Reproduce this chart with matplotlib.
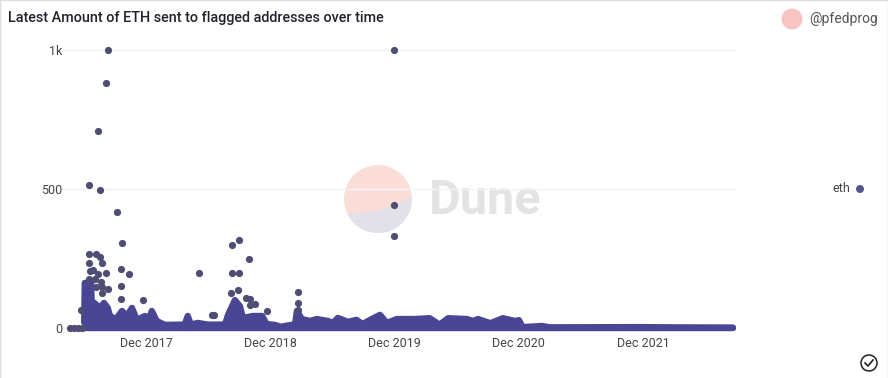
import matplotlib.pyplot as plt
from matplotlib.patches import Circle, Polygon, Rectangle

plt.rcParams['font.family'] = ['Roboto', 'DejaVu Sans']

# top of the dense band at the bottom of the chart (decimal year, eth)
band_x = [2017.415, 2017.42, 2017.47, 2017.475, 2017.51, 2017.54, 2017.575, 2017.605, 2017.62, 2017.66,
          2017.685, 2017.72, 2017.76, 2017.80, 2017.84, 2017.905, 2017.93, 2017.96, 2018.0, 2018.065,
          2018.225, 2018.25, 2018.275, 2018.33, 2018.41, 2018.55, 2018.575, 2018.63, 2018.67, 2018.695,
          2018.775, 2018.85, 2018.885, 2018.95, 2019.01, 2019.03, 2019.09, 2019.115, 2019.13, 2019.17,
          2019.235, 2019.29, 2019.38, 2019.42, 2019.46, 2019.54, 2019.61, 2019.66, 2019.72, 2019.80,
          2019.855, 2019.935, 2020.08, 2020.20, 2020.28, 2020.35, 2020.50, 2020.55, 2020.59, 2020.69,
          2020.79, 2020.89, 2020.92, 2020.95, 2021.105, 2021.17, 2021.895, 2022.16, 2022.645]
band_y = [20, 162, 162, 97, 85, 72, 90, 72, 47, 29,
          40, 61, 43, 72, 29, 43, 25, 61, 25, 11,
          12, 43, 12, 18, 12, 12, 47, 100, 79, 36,
          43, 43, 14, 11, 3, 7, 11, 11, 61, 32,
          25, 32, 25, 18, 36, 22, 29, 14, 29, 47,
          18, 32, 32, 35, 12, 35, 32, 25, 32, 17,
          35, 25, 28, 3, 7, 2, 3, 2, 1]

# single points above the band
dots_x = [2017.605, 2017.59, 2017.525, 2017.45, 2017.54, 2017.68, 2017.72, 2019.91, 2019.91, 2019.91,
          2018.34, 2018.61, 2018.66, 2018.745, 2018.61, 2018.66, 2019.14, 2019.14, 2019.14, 2017.39,
          2017.45, 2017.51, 2017.54, 2017.45, 2017.555, 2017.46, 2017.49, 2017.59, 2017.53, 2017.715,
          2017.78, 2017.45, 2017.505, 2017.55, 2017.51, 2017.555, 2017.61, 2017.555, 2017.715, 2017.89,
          2017.715, 2018.46, 2018.445, 2018.60, 2018.655, 2018.72, 2018.75, 2018.79, 2018.755, 2018.885,
          2017.30, 2017.33, 2017.365, 2017.395]
dots_y = [1000, 881, 709, 514, 496, 417, 306, 1000, 442, 331,
          199, 299, 317, 247, 198, 198, 128, 91, 65, 66,
          265, 265, 256, 235, 233, 205, 209, 199, 193, 213,
          193, 175, 176, 167, 146, 149, 139, 125, 152, 101,
          104, 48, 48, 125, 137, 109, 104, 86, 83, 61,
          0, 0, 0, 0]

tick_pos = [2017.92, 2018.92, 2019.92, 2020.92, 2021.92]
tick_labels = ["Dec 2017", "Dec 2018", "Dec 2019", "Dec 2020", "Dec 2021"]
y_ticks = [0, 500, 1000]
y_labels = ["0", "500", "1k"]

fig = plt.figure(figsize=(8.88, 3.78), dpi=100)

# page furniture, in pixels
bg = fig.add_axes([0, 0, 1, 1], zorder=0)
bg.set_xlim(0, 888)
bg.set_ylim(378, 0)
bg.axis("off")
disc = Circle((378, 199), 34, color="#fbded8", lw=0)
bg.add_patch(disc)
low = Polygon([(340, 214), (373, 212), (395, 205), (415, 195), (415, 240), (340, 240)], color="#e2e1ea", lw=0)
bg.add_patch(low)
low.set_clip_path(disc)
bg.text(429, 201, "Dune", fontsize=35, fontweight="bold", color="#e3e3e3", va="center", ha="left")
bg.text(8, 18, "Latest Amount of ETH sent to flagged addresses over time", fontsize=10.4,
        fontweight="medium", color="#20232b", va="center", ha="left")
bg.add_patch(Circle((792, 19), 10.5, color="#f8c4c4", lw=0))
bg.text(809, 19, "@pfedprog", fontsize=10, color="#555555", va="center", ha="left")
bg.text(832, 189, "eth", fontsize=9, color="#444444", va="center", ha="left")
bg.add_patch(Circle((860, 189), 4, color="#55558c", lw=0))
bg.add_patch(Circle((869, 363), 8, fc="white", ec="#222222", lw=1.1))
bg.plot([865, 868, 873], [363, 366, 360], color="#222222", lw=1.2)
bg.add_patch(Rectangle((0, 0), 887.5, 400, fc="none", ec="#dddddd", lw=1))

ax = fig.add_axes([60 / 888, 42 / 378, 676 / 888, 294 / 378], zorder=1)
ax.patch.set_alpha(0)
ax.set_xlim(2017.22, 2022.67)
ax.set_ylim(-29, 1029)
ax.fill_between(band_x, 0, band_y, color="#4a4694", lw=0, zorder=3)
ax.plot(band_x, band_y, color="#4a4694", lw=4.6, solid_joinstyle="round", solid_capstyle="round",
        clip_on=False, zorder=3)
ax.plot([band_x[0], band_x[-1]], [0, 0], color="#4a4694", lw=4.6, solid_capstyle="round",
        clip_on=False, zorder=3)
ax.scatter(dots_x, dots_y, s=27, color="#504d75", lw=0, clip_on=False, zorder=4)

ax.set_xticks(tick_pos)
ax.set_xticklabels(tick_labels)
ax.set_yticks(y_ticks)
ax.set_yticklabels(y_labels)
ax.tick_params(length=0, labelsize=9, labelcolor="#444444")
ax.tick_params(axis="x", pad=1)
ax.tick_params(axis="y", pad=-2)
ax.grid(axis="y", color="#f3f3f3", lw=1, zorder=0)
for s in ax.spines.values():
    s.set_visible(False)

fig.savefig("out.png", dpi=100)
